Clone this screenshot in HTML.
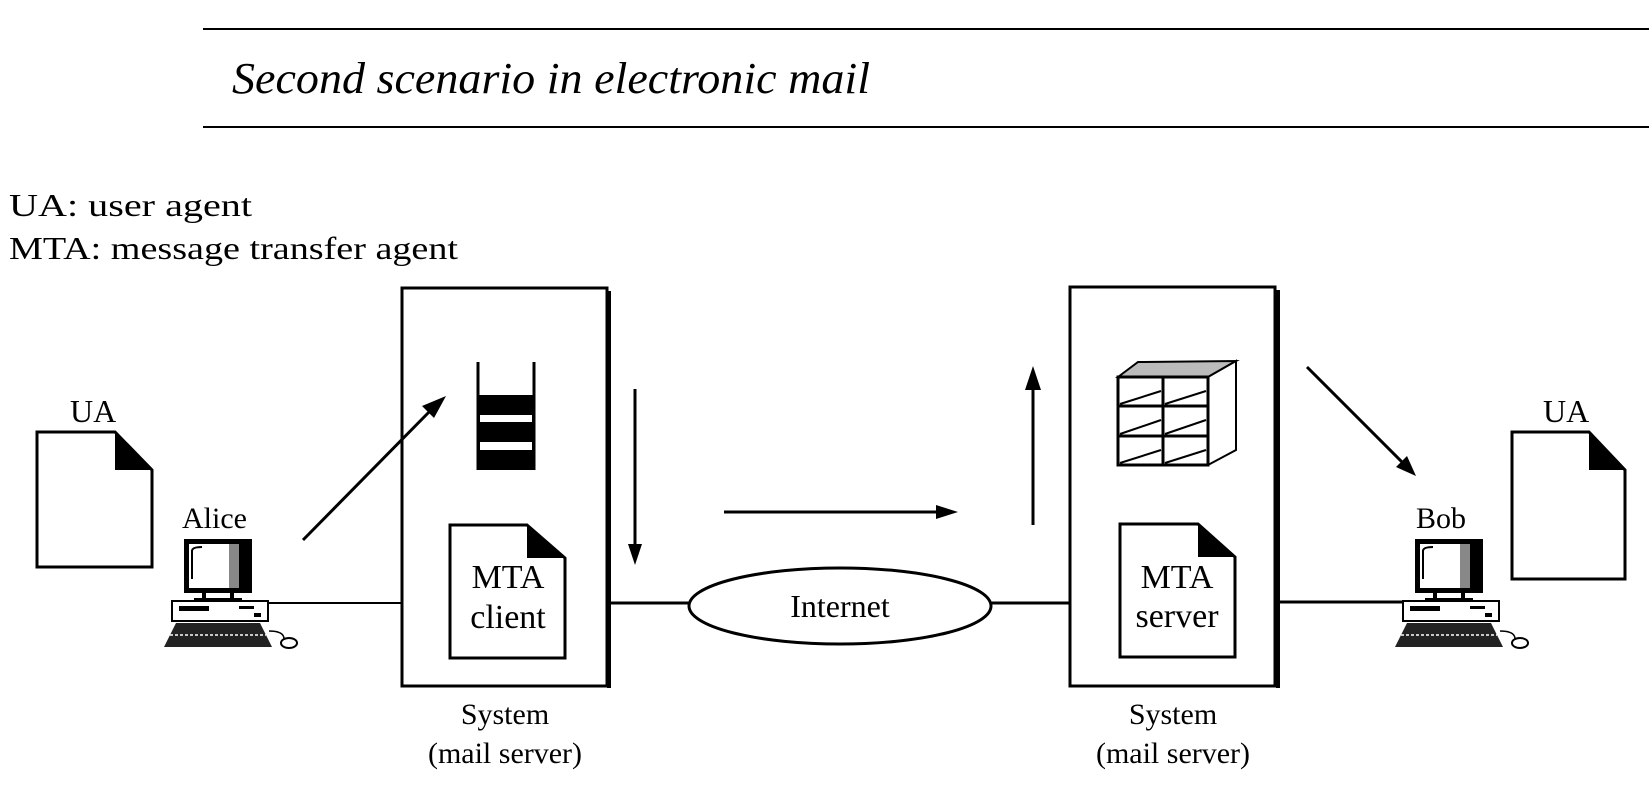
<!DOCTYPE html>
<html><head><meta charset="utf-8"><style>
html,body{margin:0;padding:0;background:#fff;}
svg{display:block;}
text{font-family:"Liberation Serif",serif;fill:#000;}
</style></head><body>
<svg width="1649" height="801" viewBox="0 0 1649 801" xmlns="http://www.w3.org/2000/svg">
<defs>
<g id="comp">
  <rect x="0" y="0" width="68" height="54" fill="#000"/>
  <rect x="5" y="5" width="40" height="44" fill="#fff"/>
  <rect x="45" y="5" width="10" height="44" fill="#888"/>
  <path d="M8 40 V12 Q8 8 18 8" stroke="#000" stroke-width="2" fill="none"/>
  <rect x="18" y="54" width="4" height="6" fill="#000"/>
  <rect x="46" y="54" width="4" height="6" fill="#000"/>
  <rect x="10" y="59" width="48" height="3" fill="#000"/>
  <rect x="-12" y="62" width="96" height="20" fill="#fff" stroke="#000" stroke-width="2"/>
  <rect x="-5" y="67" width="30" height="5" fill="#000"/>
  <rect x="55" y="67" width="15" height="3" fill="#000"/>
  <rect x="70" y="74" width="7" height="4" fill="#000"/>
  <path d="M-20 108 L-8 84 L76 84 L88 108 Z" fill="#222"/>
  <line x1="-14" y1="96" x2="82" y2="96" stroke="#fff" stroke-width="1.5" stroke-dasharray="3 2"/>
  <path d="M85 92 Q100 92 100 100" stroke="#000" stroke-width="1.5" fill="none"/>
  <ellipse cx="105" cy="104" rx="8" ry="5" fill="#fff" stroke="#000" stroke-width="2"/>
</g>
</defs>

<line x1="203" y1="29" x2="1649" y2="29" stroke="#000" stroke-width="2"/>
<line x1="203" y1="127" x2="1649" y2="127" stroke="#000" stroke-width="2"/>
<text x="232" y="93" font-size="44" font-style="italic" textLength="638" lengthAdjust="spacingAndGlyphs">Second scenario in electronic mail</text>

<text x="9" y="216" font-size="32" textLength="243" lengthAdjust="spacingAndGlyphs">UA: user agent</text>
<text x="9" y="259" font-size="32" textLength="449" lengthAdjust="spacingAndGlyphs">MTA: message transfer agent</text>

<!-- left UA -->
<text x="70" y="422" font-size="32">UA</text>
<path d="M37 432 H115 L152 470 V567 H37 Z" fill="#fff" stroke="#000" stroke-width="3"/>
<path d="M115 432 L152 470 H115 Z" fill="#000"/>

<!-- Alice -->
<text x="182" y="528" font-size="30">Alice</text>
<use href="#comp" x="184" y="539"/>
<line x1="267" y1="603" x2="402" y2="603" stroke="#000" stroke-width="2"/>

<!-- left system box -->
<rect x="402" y="288" width="205" height="398" fill="#fff" stroke="#000" stroke-width="3"/>
<line x1="609" y1="291" x2="609" y2="688" stroke="#000" stroke-width="4"/>

<!-- arrow alice to queue -->
<line x1="303" y1="540" x2="432" y2="409" stroke="#000" stroke-width="3"/>
<polygon points="446,396 422,406 434,418" fill="#000"/>

<!-- queue -->
<line x1="478" y1="362" x2="478" y2="470" stroke="#000" stroke-width="3"/>
<line x1="534" y1="362" x2="534" y2="470" stroke="#000" stroke-width="3"/>
<rect x="477" y="395" width="58" height="75" fill="#000"/>
<rect x="480" y="415" width="52" height="7" fill="#fff"/>
<rect x="480" y="442" width="52" height="8" fill="#fff"/>
<!-- MTA client -->
<path d="M450 525 H527 L565 558 V658 H450 Z" fill="#fff" stroke="#000" stroke-width="3"/>
<path d="M527 525 L565 558 H527 Z" fill="#000"/>
<text x="508" y="588" font-size="34" text-anchor="middle">MTA</text>
<text x="508" y="628" font-size="34" text-anchor="middle">client</text>
<text x="505" y="724" font-size="30" text-anchor="middle">System</text>
<text x="505" y="763" font-size="30" text-anchor="middle">(mail server)</text>

<!-- down arrow -->
<line x1="635" y1="389" x2="635" y2="548" stroke="#000" stroke-width="3"/>
<polygon points="635,565 628,544 642,544" fill="#000"/>

<!-- lines to internet -->
<line x1="609" y1="603" x2="690" y2="603" stroke="#000" stroke-width="3"/>
<line x1="990" y1="603" x2="1070" y2="603" stroke="#000" stroke-width="3"/>
<ellipse cx="840" cy="606" rx="151" ry="38" fill="#fff" stroke="#000" stroke-width="3"/>
<text x="840" y="617" font-size="32" text-anchor="middle">Internet</text>

<!-- horizontal arrow -->
<line x1="724" y1="512" x2="940" y2="512" stroke="#000" stroke-width="3"/>
<polygon points="958,512 936,505 936,519" fill="#000"/>

<!-- up arrow -->
<line x1="1033" y1="525" x2="1033" y2="385" stroke="#000" stroke-width="3"/>
<polygon points="1033,366 1025,390 1041,390" fill="#000"/>

<!-- right system box -->
<rect x="1070" y="287" width="205" height="399" fill="#fff" stroke="#000" stroke-width="3"/>
<line x1="1278" y1="290" x2="1278" y2="688" stroke="#000" stroke-width="4"/>
<!-- mailbox cube -->
<path d="M1118 377 L1138 362 L1236 361 L1208 377 Z" fill="#bbb" stroke="#000" stroke-width="2"/>
<path d="M1208 377 L1236 361 L1236 450 L1208 465 Z" fill="#fff" stroke="#000" stroke-width="2"/>
<rect x="1118" y="377" width="90" height="88" fill="#fff" stroke="#000" stroke-width="3"/>
<line x1="1163" y1="377" x2="1163" y2="465" stroke="#000" stroke-width="3"/>
<line x1="1118" y1="406" x2="1208" y2="406" stroke="#000" stroke-width="3"/>
<line x1="1118" y1="436" x2="1208" y2="436" stroke="#000" stroke-width="3"/>
<g stroke="#000" stroke-width="2">
<line x1="1120" y1="404" x2="1161" y2="391"/><line x1="1165" y1="404" x2="1206" y2="391"/>
<line x1="1120" y1="434" x2="1161" y2="420"/><line x1="1165" y1="434" x2="1206" y2="420"/>
<line x1="1120" y1="463" x2="1161" y2="450"/><line x1="1165" y1="463" x2="1206" y2="450"/>
</g>
<!-- MTA server -->
<path d="M1120 524 H1198 L1235 557 V657 H1120 Z" fill="#fff" stroke="#000" stroke-width="3"/>
<path d="M1198 524 L1235 557 H1198 Z" fill="#000"/>
<text x="1177" y="588" font-size="34" text-anchor="middle">MTA</text>
<text x="1177" y="627" font-size="34" text-anchor="middle">server</text>
<text x="1173" y="724" font-size="30" text-anchor="middle">System</text>
<text x="1173" y="763" font-size="30" text-anchor="middle">(mail server)</text>

<!-- arrow to bob -->
<line x1="1307" y1="367" x2="1403" y2="463" stroke="#000" stroke-width="3"/>
<polygon points="1416,476 1396,467 1407,456" fill="#000"/>

<!-- Bob -->
<line x1="1280" y1="602" x2="1402" y2="602" stroke="#000" stroke-width="3"/>
<text x="1416" y="528" font-size="30">Bob</text>
<use href="#comp" x="1415" y="539"/>

<!-- right UA -->
<text x="1543" y="422" font-size="32">UA</text>
<path d="M1512 432 H1589 L1625 470 V579 H1512 Z" fill="#fff" stroke="#000" stroke-width="3"/>
<path d="M1589 432 L1625 470 H1589 Z" fill="#000"/>
</svg>
</body></html>
